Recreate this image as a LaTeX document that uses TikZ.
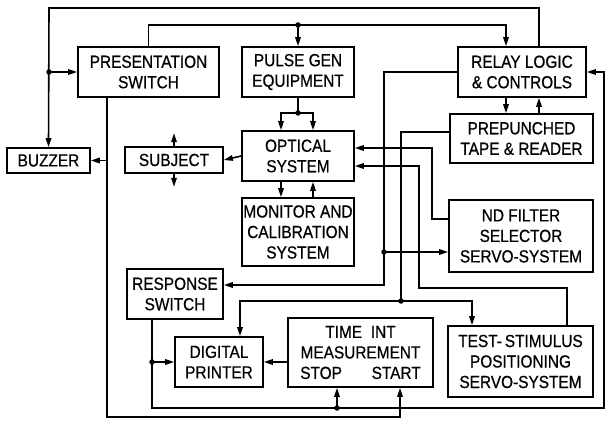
\documentclass[tikz,border=0pt]{standalone}
\usepackage{fontspec}
\setmainfont[FakeStretch=0.88,FakeBold=0.6]{Liberation Sans}
\usetikzlibrary{arrows.meta}
\tikzset{
  box/.style={draw, line width=1.6pt, rectangle, align=center, inner sep=0pt,
    font=\fontsize{17.5}{20.5}\selectfont},
  wire/.style={line width=1.6pt},
  arr/.style={wire, -{Triangle[length=9pt,width=5.5pt]}},
  jdot/.style={circle, fill, inner sep=0pt, minimum size=5.5pt},
}
\begin{document}
\begin{tikzpicture}[x=1pt,y=-1pt]
\useasboundingbox (0,0) rectangle (608,422);
% boxes
\node[box, minimum width=141, minimum height=50] (pres) at (148.5,72) {PRESENTATION\\SWITCH};
\node[box, minimum width=112, minimum height=50] (pulse) at (298,72) {PULSE GEN\\EQUIPMENT};
\node[box, minimum width=128, minimum height=50] (relay) at (522,72) {RELAY LOGIC\\\& CONTROLS};
\node[box, minimum width=143, minimum height=49] (tape) at (521.5,138.5) {PREPUNCHED\\TAPE \& READER};
\node[box, minimum width=83, minimum height=25] (buzzer) at (48.5,160.5) {BUZZER};
\node[box, minimum width=98, minimum height=26] (subject) at (174,160) {SUBJECT};
\node[box, minimum width=112, minimum height=50] (optical) at (298,156) {OPTICAL\\SYSTEM};
\node[box, minimum width=112, minimum height=68] (monitor) at (298,232) {MONITOR AND\\CALIBRATION\\SYSTEM};
\node[box, minimum width=144, minimum height=72] (ndf) at (521,236) {ND FILTER\\SELECTOR\\SERVO-SYSTEM};
\node[box, minimum width=96, minimum height=50] (resp) at (175,294) {RESPONSE\\SWITCH};
\node[box, minimum width=88, minimum height=50] (printer) at (219,362) {DIGITAL\\PRINTER};
\node[box, minimum width=145, minimum height=69] (timeint) at (360.5,352.5) {TIME\hspace{0.5em}INT\\MEASUREMENT\\STOP\hspace{1.7em}START};
\node[box, minimum width=145, minimum height=71] (test) at (520.5,361.5) {TEST-\,STIMULUS\\POSITIONING\\SERVO-SYSTEM};
% bus coordinates
\coordinate (t1) at (539,8);
\coordinate (t2) at (49,8);
\coordinate (t3) at (49,72);
\coordinate (s1) at (506,25);
\coordinate (pj) at (298,113);
\coordinate (r1) at (384,285);
\coordinate (r2) at (384,252);
\coordinate (p1) at (401,132);
\coordinate (p2) at (401,301);
\coordinate (p3) at (240,301);
\coordinate (p4) at (472,301);
\coordinate (n1) at (432,219);
\coordinate (n2) at (432,148);
\coordinate (m1) at (567,288);
\coordinate (m2) at (419,288);
\coordinate (m3) at (419,166);
\coordinate (b1) at (107,417);
\coordinate (b2) at (400,417);
\coordinate (c1) at (152,408);
\coordinate (c2) at (604,408);
\coordinate (c3) at (604,72);
\coordinate (c4) at (152,362);
\coordinate (c5) at (337,408);
% top outer line
\draw[arr] (relay.north -| t1) -- (t1) -- (t2) -- (buzzer.north);
\draw[arr] (t3) -- (pres.west);
\node[jdot] at (t3) {};
% second line
\draw[arr] (pres.north) |- (s1) -- (s1 |- relay.north);
\draw[arr] (pulse.north |- s1) -- (pulse.north);
\node[jdot] at (pulse.north |- s1) {};
% pulse gen to optical
\draw[wire] (pulse.south) -- (pj);
\draw[arr] (pj) -| ([xshift=-17pt]optical.north);
\draw[arr] (pj) -| ([xshift=15pt]optical.north);
\node[jdot] at (pj) {};
% optical - subject
\draw[arr] (optical.west) -- (subject.east);
\draw[arr] (subject.north) -- ++(0,-13);
\draw[arr] (subject.south) -- ++(0,13);
% optical - monitor
\draw[arr] ([xshift=-17pt]optical.south) -- ([xshift=-17pt]monitor.north);
\draw[arr] ([xshift=15pt]monitor.north) -- ([xshift=15pt]optical.south);
% relay - tape
\draw[arr] (relay.south -| s1) -- (tape.north -| s1);
\draw[arr] (tape.north -| t1) -- (relay.south -| t1);
% relay west bus
\draw[arr] (relay.west) -| (r1) -- (r1 -| resp.east);
\draw[arr] (r2) -- (r2 -| ndf.west);
\node[jdot] at (r2) {};
% tape west bus
\draw[wire] (tape.west |- p1) -- (p1) -- (p2);
\draw[arr] (p2) -- (p3) -- (p3 |- printer.north);
\draw[arr] (p2) -- (p4) -- (p4 |- test.north);
\node[jdot] at (p2) {};
% nd filter -> optical
\draw[arr] (ndf.west |- n1) -- (n1) -- (n2) -- (n2 -| optical.east);
% test -> optical
\draw[arr] (test.north -| m1) -- (m1) -- (m2) -- (m3) -- (m3 -| optical.east);
% presentation switch -> start
\draw[arr] (pres.south -| b1) -- (b1) -- (b2) -- (b2 |- timeint.south);
\draw[arr] (buzzer.east -| b1) -- (buzzer.east);
% response loop
\draw[arr] (resp.south -| c1) -- (c1) -- (c2) -- (c3) -- (relay.east);
\draw[arr] (c4) -- (printer.west);
\node[jdot] at (c4) {};
\draw[arr] (c5) -- (c5 |- timeint.south);
\node[jdot] at (c5) {};
% time int -> printer
\draw[arr] (timeint.west |- printer.east) -- (printer.east);
\end{tikzpicture}
\end{document}
